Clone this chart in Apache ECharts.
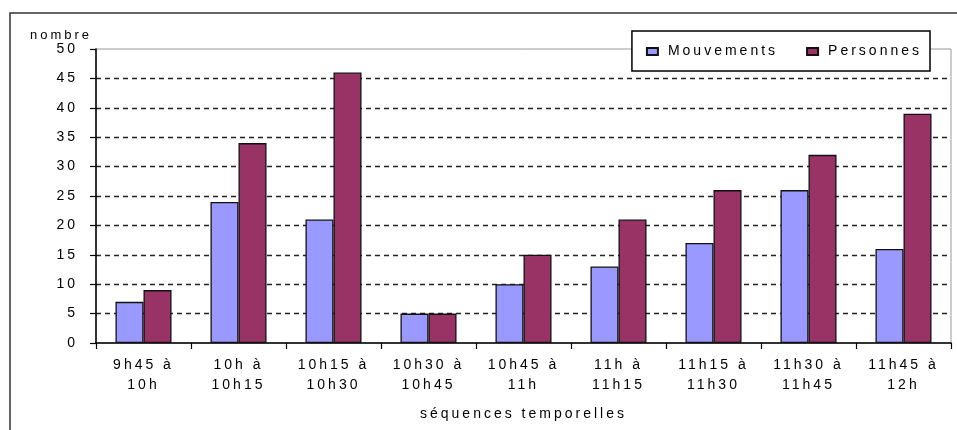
<!DOCTYPE html>
<html>
<head>
<meta charset="utf-8">
<script src="https://cdn.jsdelivr.net/npm/echarts@6/dist/echarts.min.js"></script>
<style>
html,body{margin:0;padding:0;background:#fff;}
#chart{width:957px;height:430px;}
</style>
</head>
<body>
<div id="chart"></div>
<script>
// letter-spaced text like the reference
(function(){
  var P = CanvasRenderingContext2D.prototype;
  var of = P.fillText, om = P.measureText;
  P.fillText = function(){ try{ this.letterSpacing = '3px'; }catch(e){} return of.apply(this, arguments); };
  P.measureText = function(){ try{ this.letterSpacing = '3px'; }catch(e){} return om.apply(this, arguments); };
})();

const categories = ['9h45 à\n10h','10h à\n10h15','10h15 à\n10h30','10h30 à\n10h45','10h45 à\n11h','11h à\n11h15','11h15 à\n11h30','11h30 à\n11h45','11h45 à\n12h'];
const mouvements = [7, 24, 21, 5, 10, 13, 17, 26, 16];
const personnes  = [9, 34, 46, 5, 15, 21, 26, 32, 39];
const seriesNames = ['Mouvements', 'Personnes'];
const yAxisTitle = 'nombre';
const xAxisTitle = 'séquences temporelles';

const FONT = '"Liberation Sans", Arial, sans-serif';
const FS = 14;
const chart = echarts.init(document.getElementById('chart'), null, {renderer:'canvas'});
chart.setOption({
  animation: false,
  backgroundColor: '#fff',
  textStyle: {fontFamily: FONT, fontSize: FS, color: '#000'},
  graphic: [
    {type:'rect', shape:{x:10, y:13, width:1000, height:500}, style:{fill:null, stroke:'#333', lineWidth:1.5}, silent:true, z:-1},
    {type:'text', left:30, top:27, style:{text:yAxisTitle, fontFamily:FONT, fontSize:13, fill:'#000'}}
  ],
  legend: {
    right: 27, top: 31,
    orient: 'horizontal',
    padding: [12, 8, 11, 14],
    borderColor: '#000', borderWidth: 1.5,
    backgroundColor: '#fff',
    itemWidth: 11, itemHeight: 7, itemGap: 28,
    icon: 'rect',
    textStyle: {fontFamily: FONT, fontSize: FS, color: '#000', padding:[0,0,0,5]},
    data: seriesNames
  },
  grid: {
    left: 96, top: 49, right: 6, bottom: 87,
    outerBoundsMode: 'none',
    containLabel: false,
    show: true, borderColor: '#999', borderWidth: 1, backgroundColor: 'transparent'
  },
  xAxis: {
    type: 'category',
    data: categories,
    name: xAxisTitle,
    nameLocation: 'middle',
    nameGap: 63,
    nameTextStyle: {fontFamily: FONT, fontSize: FS, color: '#000'},
    axisLine: {lineStyle: {color: '#000', width: 1.5}},
    axisTick: {show: true, alignWithLabel: false, length: 6, lineStyle: {color: '#000', width: 1.2}},
    axisLabel: {color: '#000', fontFamily: FONT, fontSize: FS, lineHeight: 20, margin: 12, interval: 0}
  },
  yAxis: {
    type: 'value',
    min: 0, max: 50, interval: 5,
    axisLine: {show: true, lineStyle: {color: '#000', width: 1.5}},
    axisTick: {show: true, length: 6, lineStyle: {color: '#000', width: 1.2}},
    axisLabel: {color: '#000', fontFamily: FONT, fontSize: FS, margin: 18},
    splitLine: {show: true, showMaxLine: false, showMinLine: false, lineStyle: {color: '#222', width: 1.3, type: [5, 4]}}
  },
  series: [
    {name: seriesNames[0], type: 'bar', data: mouvements, barGap: '0%', barCategoryGap: '41%',
     itemStyle: {color: '#9999FF', borderColor: '#111', borderWidth: 1.3}},
    {name: seriesNames[1], type: 'bar', data: personnes, barGap: '0%', barCategoryGap: '41%',
     itemStyle: {color: '#993366', borderColor: '#111', borderWidth: 1.3}}
  ]
});
</script>
</body>
</html>
